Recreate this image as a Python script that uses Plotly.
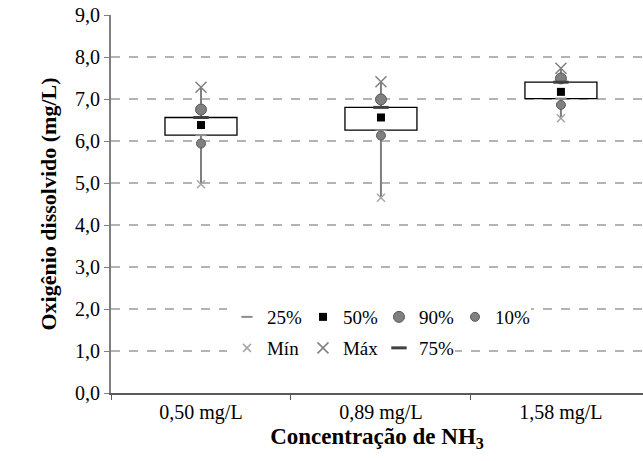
import plotly.graph_objects as go

categories = ["0,50 mg/L", "0,89 mg/L", "1,58 mg/L"]
p_min = [4.97, 4.65, 6.54]
p10 = [5.94, 6.13, 6.86]
p25 = [6.14, 6.26, 7.01]
p50 = [6.38, 6.56, 7.17]
p75 = [6.56, 6.80, 7.40]
p90 = [6.75, 6.99, 7.49]
p_max = [7.28, 7.41, 7.73]
y_ticks = [0, 1, 2, 3, 4, 5, 6, 7, 8, 9]
y_tick_labels = ["0,0", "1,0", "2,0", "3,0", "4,0", "5,0", "6,0", "7,0", "8,0", "9,0"]

FONT = "'Liberation Serif', 'Times New Roman', Times, serif"
fig = go.Figure()

# box (25% - 75%)
fig.add_trace(go.Bar(
    x=categories, y=[b - a for a, b in zip(p25, p75)], base=p25,
    width=0.4, marker=dict(color="white", line=dict(color="black", width=1.3)),
    showlegend=False, hoverinfo="skip"))

# whiskers (min -> 25%, 75% -> max)
wx, wy = [], []
for c, lo, q1, q3, hi in zip(categories, p_min, p25, p75, p_max):
    wx += [c, c, None, c, c, None]
    wy += [lo, q1, None, q3, hi, None]
fig.add_trace(go.Scatter(x=wx, y=wy, mode="lines", line=dict(color="#7f7f7f", width=2),
                         showlegend=False, hoverinfo="skip", connectgaps=False))

def add(name, yv, symbol, size, color, lw, lcolor, legend):
    fig.add_trace(go.Scatter(
        x=categories, y=yv, mode="markers", name=name, legend=legend,
        marker=dict(symbol=symbol, size=size, color=color,
                    line=dict(width=lw, color=lcolor))))

add("25%", p25, "line-ew", 8, "#8c8c8c", 2, "#8c8c8c", "legend")
add("50%", p50, "square", 8, "black", 0, "black", "legend")
add("90%", p90, "circle", 11, "#808080", 1, "#5a5a5a", "legend")
add("10%", p10, "circle", 9, "#808080", 1, "#5a5a5a", "legend")
add("Mín", p_min, "x-thin", 8, "#a6a6a6", 1.5, "#a6a6a6", "legend2")
add("Máx", p_max, "x-thin", 11, "#808080", 1.5, "#808080", "legend2")
add("75%", p75, "line-ew", 11, "#404040", 3, "#404040", "legend2")

leg_common = dict(orientation="h", xanchor="left", yanchor="middle",
                  bgcolor="white", borderwidth=0, entrywidth=31,
                  entrywidthmode="pixels", font=dict(family=FONT, size=19, color="black"),
                  itemclick=False)
fig.update_layout(
    width=643, height=461,
    margin=dict(l=111, r=0, t=15, b=68),
    paper_bgcolor="white", plot_bgcolor="white",
    font=dict(family=FONT, color="black"),
    legend=dict(x=0.218, y=0.201, **leg_common),
    legend2=dict(x=0.218, y=0.119, **leg_common),
    xaxis=dict(type="category", range=[-0.5, 2.456], tickson="boundaries",
               ticks="outside", ticklen=5, tickcolor="#595959",
               showline=True, linecolor="#595959", linewidth=1.5,
               showgrid=False, tickfont=dict(family=FONT, size=20, color="black"),
               title=dict(text="<b>Concentração de NH<sub>3</sub></b>",
                          font=dict(family=FONT, size=23, color="black"), standoff=4)),
    yaxis=dict(range=[0, 9], tickvals=y_ticks, ticktext=y_tick_labels,
               ticks="outside", ticklen=5, tickcolor="#7f7f7f",
               showline=True, linecolor="#7f7f7f", linewidth=2,
               showgrid=True, gridcolor="#b3b3b3", gridwidth=1.5, griddash="dash",
               zeroline=False, tickfont=dict(family=FONT, size=20, color="black"),
               title=dict(text="<b>Oxigênio dissolvido (mg/L)</b>",
                          font=dict(family=FONT, size=22, color="black"), standoff=12)),
    barmode="overlay",
)
fig.write_html("out.html", config={"displayModeBar": False},
               post_script="document.body.style.margin='0';")
